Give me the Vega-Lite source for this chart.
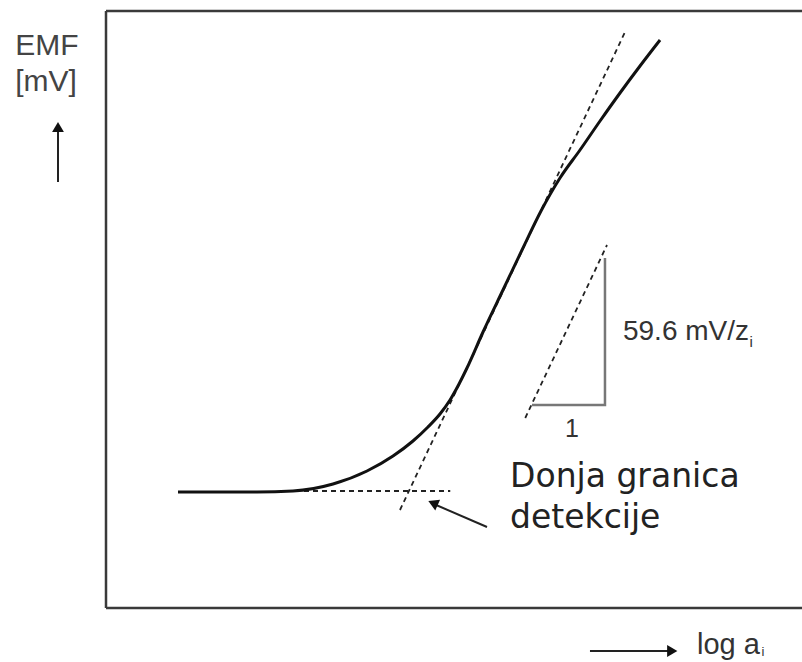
{
  "$schema": "https://vega.github.io/schema/vega-lite/v6.json",
  "width": 696,
  "height": 597,
  "autosize": {"type": "none"},
  "padding": {"left": 106, "top": 11, "right": 0, "bottom": 54},
  "background": "white",
  "config": {"view": {"stroke": null}},
  "encoding": {
    "x": {"type": "quantitative", "scale": {"domain": [-8, 1.28], "nice": false, "zero": false}, "axis": null},
    "y": {"type": "quantitative", "scale": {"domain": [0, 238.8], "nice": false, "zero": false}, "axis": null}
  },
  "layer": [
    {
      "data": {"values": [
        {"x": -8, "y": 0, "x2": -8, "y2": 238.8},
        {"x": -8, "y": 238.8, "x2": 1.28, "y2": 238.8},
        {"x": -8, "y": 0, "x2": 1.28, "y2": 0}
      ]},
      "mark": {"type": "rule", "color": "#3a3a3a", "strokeWidth": 2.5, "clip": false},
      "encoding": {"x": {"field": "x"}, "y": {"field": "y"}, "x2": {"field": "x2"}, "y2": {"field": "y2"}}
    },
    {
      "data": {"values": [
        {"id": "tangent", "x": -4.08, "y": 39.2},
        {"id": "tangent", "x": -1.067, "y": 231.2},
        {"id": "base", "x": -5.48, "y": 46.8},
        {"id": "base", "x": -3.41, "y": 46.8},
        {"id": "hyp", "x": -2.41, "y": 76.0},
        {"id": "hyp", "x": -1.32, "y": 145.2}
      ]},
      "mark": {"type": "line", "color": "#222", "strokeWidth": 1.8, "strokeDash": [5, 4]},
      "encoding": {"x": {"field": "x"}, "y": {"field": "y"}, "detail": {"field": "id"}}
    },
    {
      "data": {"values": [
        {"i": 1, "x": -7.04, "y": 46.4},
        {"i": 2, "x": -5.987, "y": 46.4},
        {"i": 3, "x": -5.507, "y": 46.8},
        {"i": 4, "x": -4.973, "y": 49.6},
        {"i": 5, "x": -4.52, "y": 54.8},
        {"i": 6, "x": -4.173, "y": 60.8},
        {"i": 7, "x": -3.907, "y": 66.8},
        {"i": 8, "x": -3.707, "y": 72.4},
        {"i": 9, "x": -3.547, "y": 77.6},
        {"i": 10, "x": -3.413, "y": 83.2},
        {"i": 11, "x": -3.293, "y": 89.6},
        {"i": 12, "x": -3.187, "y": 96.0},
        {"i": 13, "x": -2.973, "y": 110.4},
        {"i": 14, "x": -2.707, "y": 127.2},
        {"i": 15, "x": -2.453, "y": 143.2},
        {"i": 16, "x": -2.2, "y": 158.8},
        {"i": 17, "x": -1.947, "y": 172.0},
        {"i": 18, "x": -1.68, "y": 183.2},
        {"i": 19, "x": -1.413, "y": 194.8},
        {"i": 20, "x": -1.147, "y": 206.0},
        {"i": 21, "x": -0.88, "y": 216.8},
        {"i": 22, "x": -0.613, "y": 227.2}
      ]},
      "mark": {"type": "line", "color": "#111", "strokeWidth": 3, "interpolate": "monotone"},
      "encoding": {"x": {"field": "x"}, "y": {"field": "y"}, "order": {"field": "i"}}
    },
    {
      "data": {"values": [
        {"i": 1, "x": -2.32, "y": 81.2},
        {"i": 2, "x": -1.347, "y": 81.2},
        {"i": 3, "x": -1.347, "y": 140.0}
      ]},
      "mark": {"type": "line", "color": "#777", "strokeWidth": 2.5},
      "encoding": {"x": {"field": "x"}, "y": {"field": "y"}, "order": {"field": "i"}}
    },
    {
      "data": {"values": [
        {"x": -8.64, "y": 170.4, "x2": -8.64, "y2": 193.0},
        {"x": -1.547, "y": -17.2, "x2": -0.45, "y2": -17.2},
        {"x": -2.92, "y": 32.4, "x2": -3.66, "y2": 42.0}
      ]},
      "mark": {"type": "rule", "color": "#222", "strokeWidth": 2, "clip": false},
      "encoding": {"x": {"field": "x"}, "y": {"field": "y"}, "x2": {"field": "x2"}, "y2": {"field": "y2"}}
    },
    {
      "data": {"values": [{"x": -8.64, "y": 192.4}]},
      "mark": {"type": "point", "shape": "triangle-up", "filled": true, "color": "#111", "size": 140, "opacity": 1, "clip": false},
      "encoding": {"x": {"field": "x"}, "y": {"field": "y"}}
    },
    {
      "data": {"values": [{"x": -0.45, "y": -17.2}]},
      "mark": {"type": "point", "shape": "triangle-right", "filled": true, "color": "#111", "size": 140, "opacity": 1, "clip": false},
      "encoding": {"x": {"field": "x"}, "y": {"field": "y"}}
    },
    {
      "data": {"values": [{"x": -3.64, "y": 42.0}]},
      "mark": {"type": "point", "shape": "triangle-up", "angle": 294, "filled": true, "color": "#111", "size": 140, "opacity": 1},
      "encoding": {"x": {"field": "x"}, "y": {"field": "y"}}
    },
    {
      "data": {"values": [
        {"x": -9.21, "y": 221.2, "t": "EMF"},
        {"x": -9.21, "y": 206.8, "t": "[mV]"}
      ]},
      "mark": {"type": "text", "align": "left", "baseline": "alphabetic", "font": "Liberation Sans", "fontSize": 30, "color": "#444", "clip": false},
      "encoding": {"x": {"field": "x"}, "y": {"field": "y"}, "text": {"field": "t"}}
    },
    {
      "data": {"values": [{"x": -0.12, "y": -18.4, "t": "log a"}]},
      "mark": {"type": "text", "align": "left", "baseline": "alphabetic", "font": "Liberation Sans", "fontSize": 29, "color": "#333", "clip": false},
      "encoding": {"x": {"field": "x"}, "y": {"field": "y"}, "text": {"field": "t"}}
    },
    {
      "data": {"values": [{"x": 0.74, "y": -19.2, "t": "i"}]},
      "mark": {"type": "text", "align": "left", "baseline": "alphabetic", "font": "Liberation Sans", "fontSize": 13, "color": "#333", "clip": false},
      "encoding": {"x": {"field": "x"}, "y": {"field": "y"}, "text": {"field": "t"}}
    },
    {
      "data": {"values": [{"x": -1.107, "y": 107.2, "t": "59.6 mV/z"}]},
      "mark": {"type": "text", "align": "left", "baseline": "alphabetic", "font": "Liberation Sans", "fontSize": 28, "color": "#333"},
      "encoding": {"x": {"field": "x"}, "y": {"field": "y"}, "text": {"field": "t"}}
    },
    {
      "data": {"values": [{"x": 0.58, "y": 104.4, "t": "i"}]},
      "mark": {"type": "text", "align": "left", "baseline": "alphabetic", "font": "Liberation Sans", "fontSize": 15, "color": "#333"},
      "encoding": {"x": {"field": "x"}, "y": {"field": "y"}, "text": {"field": "t"}}
    },
    {
      "data": {"values": [{"x": -1.787, "y": 68.4, "t": "1"}]},
      "mark": {"type": "text", "align": "center", "baseline": "alphabetic", "font": "Liberation Sans", "fontSize": 25, "color": "#333"},
      "encoding": {"x": {"field": "x"}, "y": {"field": "y"}, "text": {"field": "t"}}
    },
    {
      "data": {"values": [
        {"x": -2.613, "y": 48.4, "t": "Donja granica"},
        {"x": -2.613, "y": 32.0, "t": "detekcije"}
      ]},
      "mark": {"type": "text", "align": "left", "baseline": "alphabetic", "font": "DejaVu Sans", "fontSize": 33, "color": "#222"},
      "encoding": {"x": {"field": "x"}, "y": {"field": "y"}, "text": {"field": "t"}}
    }
  ]
}
